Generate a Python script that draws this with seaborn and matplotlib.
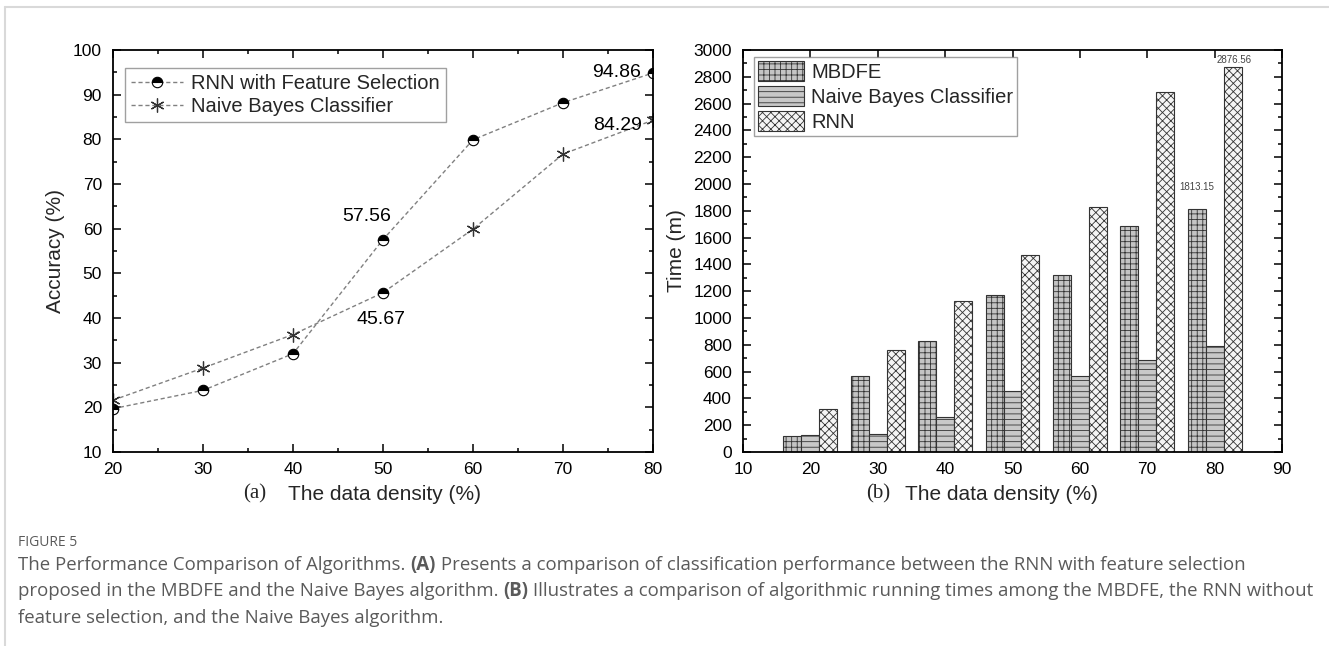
import numpy as np
import pandas as pd
import matplotlib
matplotlib.use("Agg")
import matplotlib.pyplot as plt
import seaborn as sns
from matplotlib.ticker import MultipleLocator
from matplotlib.lines import Line2D

# ---------------- data ----------------
density = [20, 30, 40, 50, 60, 70, 80]
acc_rnn_fs = [19.7, 23.8, 32.0, 57.56, 79.9, 88.2, 94.86]
acc_nb = [21.6, 28.8, 36.3, 45.67, 59.9, 76.7, 84.29]

algorithms = ["MBDFE", "Naive Bayes Classifier", "RNN"]
time_mbdfe = [122, 564, 825, 1173, 1322, 1683, 1813.15]
time_nb = [124, 137, 261, 452, 564, 684, 790]
time_rnn = [323, 763, 1124, 1472, 1827, 2684, 2876.56]

line_labels = ["RNN with Feature Selection", "Naive Bayes Classifier"]
caption_title = "FIGURE 5"
caption_lines = [
    [("The Performance Comparison of Algorithms. ", "normal"), ("(A)", "bold"),
     (" Presents a comparison of classification performance between the RNN with feature selection", "normal")],
    [("proposed in the MBDFE and the Naive Bayes algorithm. ", "normal"), ("(B)", "bold"),
     (" Illustrates a comparison of algorithmic running times among the MBDFE, the RNN without", "normal")],
    [("feature selection, and the Naive Bayes algorithm.", "normal")],
]

# ---------------- style ----------------
sns.set_theme(style="ticks")
plt.rcParams["font.family"] = ["Liberation Sans", "DejaVu Sans"]
plt.rcParams["hatch.linewidth"] = 0.6
plt.rcParams["hatch.color"] = "#333333"

W, H = 1329, 646
fig = plt.figure(figsize=(W / 100, H / 100), dpi=100)
fig.patch.set_facecolor("white")

ax1 = fig.add_axes([113 / W, 1 - 452 / H, 540 / W, 402 / H])
ax2 = fig.add_axes([743 / W, 1 - 452 / H, 539 / W, 402 / H])

# ---------------- left: accuracy ----------------
dash = (0, (3, 2))
sns.lineplot(x=density, y=acc_rnn_fs, ax=ax1, color="#808080", linestyle=dash, lw=1.0,
             marker="o", markersize=7.5, fillstyle="top", markerfacecolor="black",
             markerfacecoloralt="white", markeredgecolor="black", markeredgewidth=0.8,
             label=line_labels[0])
nb_star_idx = [0, 1, 2, 4, 5, 6]
sns.lineplot(x=density, y=acc_nb, ax=ax1, color="#808080", linestyle=dash, lw=1.0,
             marker=(6, 2, 0), markersize=10, markevery=nb_star_idx,
             markeredgecolor="#333333", markeredgewidth=0.9, label=line_labels[1])
# the point at 50% is drawn with a half-filled circle in the original
sns.lineplot(x=density, y=acc_nb, ax=ax1, color="#808080", linestyle="", lw=0,
             marker="o", markersize=7.5, markevery=[3], fillstyle="top",
             markerfacecolor="black", markerfacecoloralt="white",
             markeredgecolor="black", markeredgewidth=0.8, label="_nolegend_")

ax1.set_xlim(20, 80)
ax1.set_ylim(10, 100)
ax1.xaxis.set_major_locator(MultipleLocator(10))
ax1.xaxis.set_minor_locator(MultipleLocator(5))
ax1.yaxis.set_major_locator(MultipleLocator(10))
ax1.yaxis.set_minor_locator(MultipleLocator(5))
ax1.set_ylabel("Accuracy (%)", fontsize=15, labelpad=6)
ax1.set_xlabel("")

ann_kw = dict(fontsize=14, ha="center", va="center", color="black")
ax1.text(48.2, 62.8, f"{acc_rnn_fs[3]:.2f}", **ann_kw)
ax1.text(49.8, 39.6, f"{acc_nb[3]:.2f}", **ann_kw)
ax1.text(76.0, 94.9, f"{acc_rnn_fs[6]:.2f}", **ann_kw)
ax1.text(76.1, 83.2, f"{acc_nb[6]:.2f}", **ann_kw)

leg1 = ax1.legend(loc="upper left", bbox_to_anchor=(0.022, 0.955), fontsize=14.5,
                  frameon=True, fancybox=False, edgecolor="#888888", handlelength=2.6,
                  borderpad=0.3, labelspacing=0.2, handletextpad=0.4, borderaxespad=0)
leg1.get_frame().set_linewidth(1.0)

# ---------------- right: time ----------------
df = pd.DataFrame({
    "density": density * 3,
    "time": time_mbdfe + time_nb + time_rnn,
    "algorithm": [a for a in algorithms for _ in density],
})
face = {"MBDFE": "#c4c4c4", "Naive Bayes Classifier": "#c8c8c8", "RNN": "#f5f5f5"}
sns.barplot(data=df, x="density", y="time", hue="algorithm", hue_order=algorithms,
            native_scale=True, width=0.8, ax=ax2, palette=face, saturation=1,
            edgecolor="#333333", linewidth=0.8, legend=False, errorbar=None)
hatches = ["+++", "---", "xxxx"]
for cont, h in zip(ax2.containers, hatches):
    for p in cont:
        p.set_hatch(h)

ax2.set_xlim(10, 90)
ax2.set_ylim(0, 3000)
ax2.xaxis.set_major_locator(MultipleLocator(10))
ax2.yaxis.set_major_locator(MultipleLocator(200))
ax2.yaxis.set_minor_locator(MultipleLocator(100))
ax2.set_ylabel("Time (m)", fontsize=15, labelpad=5)
ax2.set_xlabel("")

ax2.text(77.4, 1976, f"{time_mbdfe[6]:.2f}", fontsize=7, ha="center", va="center", color="#444444")
ax2.text(82.9, 2926, f"{time_rnn[6]:.2f}", fontsize=7, ha="center", va="center", color="#444444")

leg2 = ax2.legend(ax2.containers, algorithms, loc="upper left", bbox_to_anchor=(0.020, 0.983),
                  fontsize=14.5, frameon=True, fancybox=False, edgecolor="#888888",
                  handlelength=2.3, handleheight=1.15, borderpad=0.2, labelspacing=0.22,
                  handletextpad=0.35, borderaxespad=0)
leg2.get_frame().set_linewidth(1.0)

for ax in (ax1, ax2):
    for s in ax.spines.values():
        s.set_linewidth(1.3)
        s.set_color("black")
    ax.tick_params(which="both", direction="in", top=True, right=True, width=1.1,
                   colors="black", labelsize=12.5)
    ax.tick_params(which="major", length=6)
    ax.tick_params(which="minor", length=3)
    ax.tick_params(axis="x", which="both", pad=7)
    ax.tick_params(axis="y", which="both", pad=8)
    ax.set_facecolor("white")
    ax.grid(False)

# ---------------- x labels ----------------
fig.text(243 / W, 1 - 494 / H, "(a)", fontsize=15, family=["Liberation Serif", "DejaVu Serif"],
         ha="left", va="center")
fig.text(288 / W, 1 - 494 / H, "The data density (%)", fontsize=15, ha="left", va="center")
fig.text(866 / W, 1 - 494 / H, "(b)", fontsize=15, family=["Liberation Serif", "DejaVu Serif"],
         ha="left", va="center")
fig.text(905 / W, 1 - 494 / H, "The data density (%)", fontsize=15, ha="left", va="center")

# ---------------- caption ----------------
cap_family = ["Liberation Sans Narrow", "Open Sans", "DejaVu Sans"]
cap_color = "#5a5a5a"
fig.text(18 / W, 1 - 542 / H, caption_title, fontsize=10, family=cap_family,
         color=cap_color, ha="left", va="center")

renderer = fig.canvas.get_renderer()


def draw_line(pieces, x0, y, size, draw=True):
    x = x0
    for txt, wt in pieces:
        t = fig.text(x / W, 1 - y / H, txt, fontsize=size, family=cap_family,
                     weight=wt, color=cap_color, ha="left", va="center")
        bb = t.get_window_extent(renderer)
        x += bb.width
        if not draw:
            t.remove()
    return x - x0


# fit caption font size to the line width of the original
trial = draw_line(caption_lines[1], 18, 591, 10, draw=False)
cap_size = 10 * (1298 / trial)
for pieces, y in zip(caption_lines, [565, 591, 618]):
    draw_line(pieces, 18, y, cap_size)

# frame lines of the page
fig.add_artist(Line2D([5 / W, 1], [1 - 7 / H, 1 - 7 / H], transform=fig.transFigure,
                      color="#d9d9d9", lw=1.5))
fig.add_artist(Line2D([5 / W, 5 / W], [0, 1 - 7 / H], transform=fig.transFigure,
                      color="#d9d9d9", lw=1.5))

fig.savefig("out.png", dpi=100, facecolor="white")
